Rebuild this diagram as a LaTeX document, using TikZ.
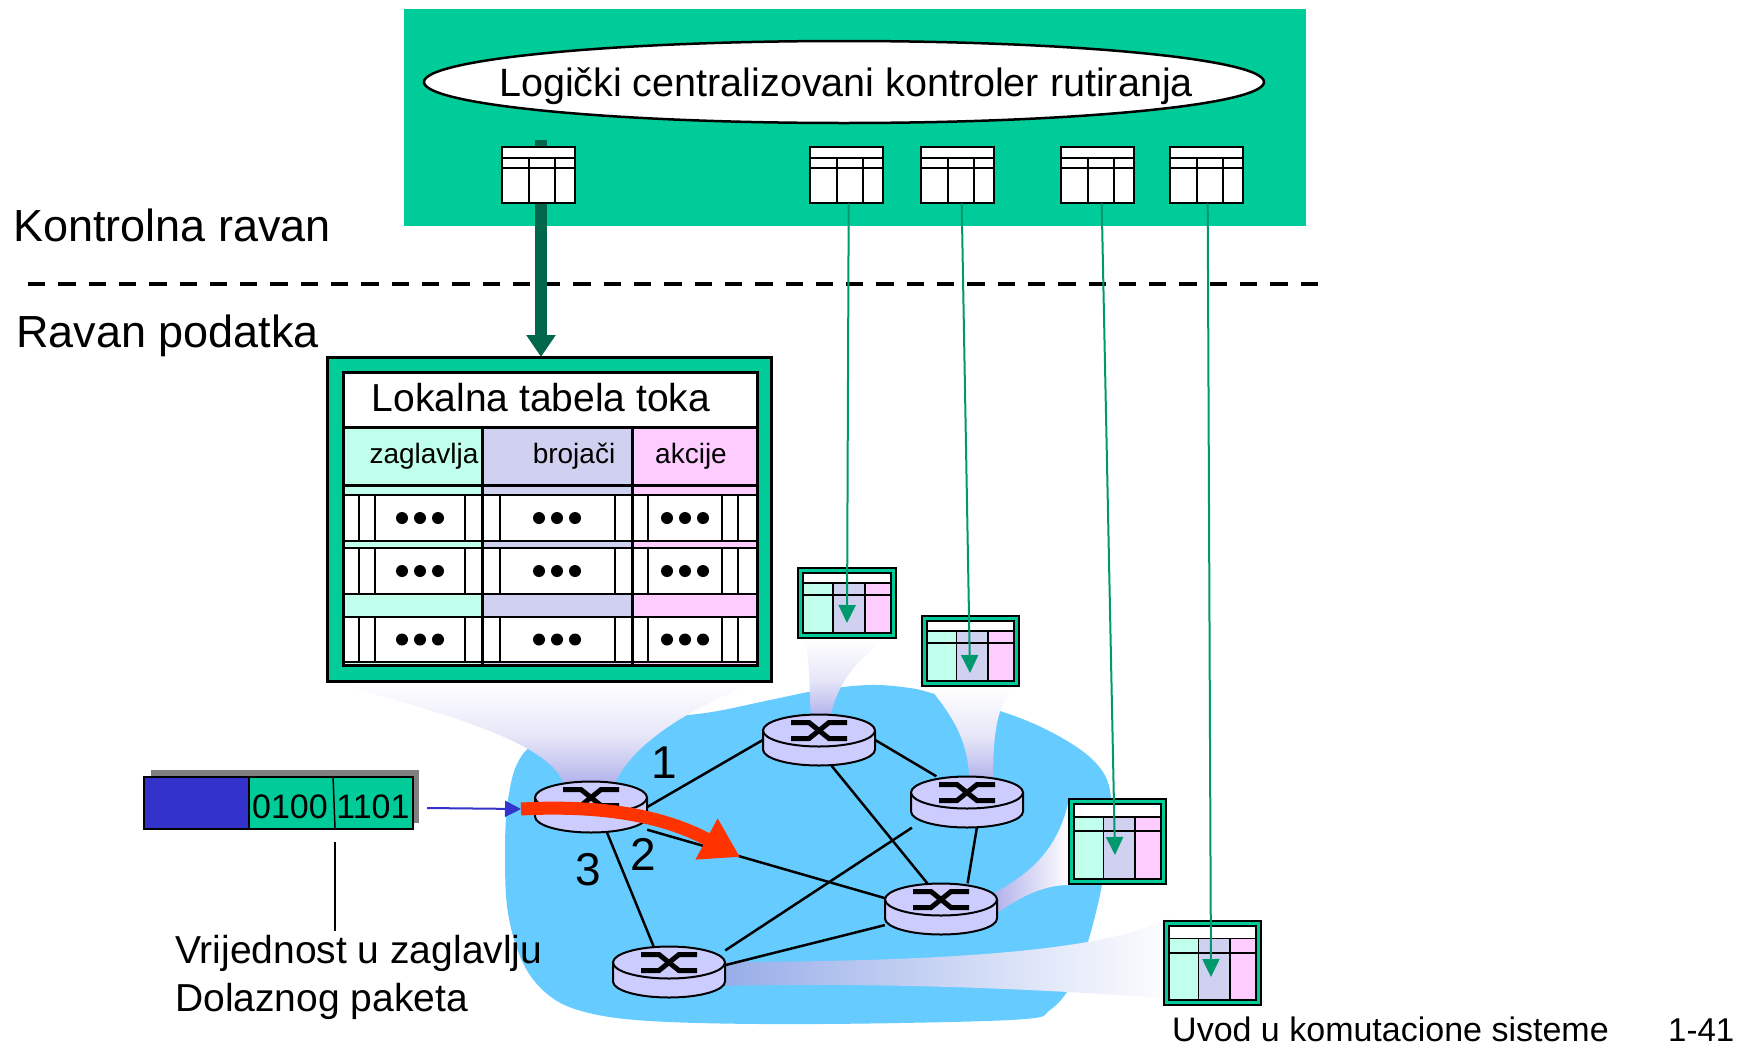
\documentclass[tikz,border=0pt]{standalone}
\usepackage{fontspec}
\setmainfont{Liberation Sans}
\usetikzlibrary{arrows.meta,shapes.geometric,calc}

\definecolor{cgreen}{RGB}{0,204,153}
\definecolor{mint}{RGB}{192,255,235}
\definecolor{lav}{RGB}{208,208,240}
\definecolor{pinkc}{RGB}{255,204,255}
\definecolor{rtr}{RGB}{204,204,255}
\definecolor{cloudc}{RGB}{102,204,255}
\definecolor{dkgreen}{RGB}{0,102,76}
\definecolor{ctrlline}{RGB}{0,153,110}
\definecolor{redarr}{RGB}{255,51,0}
\definecolor{pktblue}{RGB}{51,51,204}
\definecolor{glowc}{RGB}{172,172,234}
\definecolor{glowb}{RGB}{150,172,232}

\tikzset{
  fs/.style={font=\fontsize{#1}{#1}\selectfont},
  lbl/.style={inner sep=0pt},
  tabbox/.style={rectangle, inner sep=0pt, draw=none},
  swbox/.style={rectangle, inner sep=0pt, draw=none, minimum width=112pt, minimum height=51pt},
  swline/.style={line width=2pt, draw=black},
  swmark/.style={line width=5pt, draw=black, line join=miter},
  link/.style={line width=2.5pt, draw=black},
  ctlarrow/.style={line width=12pt, draw=dkgreen, -{Triangle[length=22pt,width=28pt]}},
  ctlthin/.style={line width=2pt, draw=ctrlline, -{Triangle[length=18pt,width=17pt]}},
  flowarrow/.style={line width=13pt, draw=redarr, -{Triangle[length=38pt,width=44pt]}},
  pktarrow/.style={line width=2pt, draw=pktblue, -{Triangle[length=16pt,width=16pt]}},
  glowdown/.style={top color=white, bottom color=glowc, middle color=glowc!30!white},
}

% small table of the controller: name, x, y (73 x 56)
\newcommand\ctab[3]{%
  \node[tabbox, minimum width=73pt, minimum height=56pt, anchor=north west] (#1) at (#2,#3) {};
  \begin{scope}[shift={(#2,#3)}]
    \draw[line width=2pt, fill=white] (0,0) rectangle (73,56);
    \draw[line width=1.6pt] (0,11) -- (73,11) (0,21) -- (73,21) (27,11) -- (27,56) (53,11) -- (53,56);
  \end{scope}}

% flow table of a switch: name, x, y, width, height
\newcommand\ntab[5]{%
  \node[tabbox, minimum width=#4pt, minimum height=#5pt, anchor=north west] (#1) at (#2,#3) {};
  \draw[line width=2.5pt, fill=cgreen] (#2,#3) rectangle ++(#4,#5);
  \pgfmathsetmacro\tabW{#4-10}\pgfmathsetmacro\tabH{#5-10}%
  \begin{scope}[shift={(#2+5,#3+5)}, x=\tabW pt, y=-\tabH pt]
    \fill[white] (0,0) rectangle (1,0.17);
    \fill[mint] (0,0.17) rectangle (0.34,1);
    \fill[lav] (0.34,0.17) rectangle (0.70,1);
    \fill[pinkc] (0.70,0.17) rectangle (1,1);
    \draw[line width=1.8pt] (0,0) rectangle (1,1) (0,0.17) -- (1,0.17) (0,0.36) -- (1,0.36)
      (0.34,0.17) -- (0.34,1) (0.70,0.17) -- (0.70,1);
  \end{scope}}

% packet switch drawn as a flat cylinder: name, x, y (centre)
\newcommand\swnode[3]{%
  \node[swbox] (#1) at (#2,#3) {};
  \begin{scope}[shift={(#2,#3-9.5)}]
    \fill[rtr] (-56,0) rectangle (56,19);
    \fill[rtr] (0,19) ellipse[x radius=56, y radius=16];
    \draw[swline] (-56,0) -- (-56,19) arc[start angle=180, end angle=0, x radius=56, y radius=16] -- (56,0);
    \draw[swline, fill=rtr] (0,0) ellipse[x radius=56, y radius=16];
    \draw[swmark] (-28,-8) -- (-10,-8) -- (10,8) -- (28,8) (-28,8) -- (-10,8) -- (10,-8) -- (28,-8);
  \end{scope}}

\begin{document}
\begin{tikzpicture}[x=1pt, y=-1pt]
\fill[white] (0,0) rectangle (1750,1047);
\useasboundingbox (0,0) rectangle (1750,1047);

% ---- control plane ----
\fill[cgreen] (404,9) rectangle (1306,226);
\node[draw, ellipse, line width=2.5pt, fill=white, minimum width=840pt, minimum height=82pt, inner sep=0pt] (ctrl) at (844,82) {};
\node[lbl, fs=39.5, anchor=base] (ctrltxt) at (846,96) {Logički centralizovani kontroler rutiranja};

\node[lbl, fs=45, anchor=base west] (cplane) at (13,241) {Kontrolna ravan};
\coordinate (dashA) at (28,284);
\coordinate (dashB) at (1318,284);
\draw[line width=4pt, dash pattern=on 17.3pt off 13pt] (dashA) -- (dashB);
\node[lbl, fs=45, anchor=base west] (dplane) at (16,347) {Ravan podatka};

% flow table placeholder (drawn further down)
\node[tabbox, minimum width=444pt, minimum height=324pt, anchor=north west] (flow) at (327,357) {};

\coordinate (ctlsrc) at (541,140);
\draw[ctlarrow] (ctlsrc) -- (ctlsrc |- flow.north);

\ctab{c1}{502}{147}
\ctab{c2}{810}{147}
\ctab{c3}{921}{147}
\ctab{c4}{1061}{147}
\ctab{c5}{1170}{147}

% ---- network cloud ----
\fill[cloudc] plot[smooth cycle, tension=0.6] coordinates {
  (505,850) (508,800) (518,762) (540,742) (600,727) (660,718) (712,712) (770,700)
  (820,690) (870,685) (910,688) (935,694) (1003,712) (1053,733) (1093,760) (1110,790)
  (1108,835) (1102,885) (1087,945) (1070,987) (1050,1010) (1025,1019) (900,1023)
  (760,1024) (650,1021) (589,1013) (551,997) (524,965) (508,913)};

% glows between switches and their tables
\shade[glowdown] (335,683) .. controls (450,715) and (560,745) .. (565,790) -- (612,790)
  .. controls (630,740) and (700,705) .. (753,683) -- cycle;
\shade[glowdown] (805,640) .. controls (812,680) and (808,700) .. (812,720) -- (830,720)
  .. controls (835,690) and (850,665) .. (884,640) -- cycle;
\shade[glowdown] (930,688) .. controls (955,720) and (968,740) .. (970,785) -- (993,785)
  .. controls (993,740) and (995,710) .. (1012,688) -- cycle;
\shade[left color=glowc, right color=white] (1069,800) .. controls (1060,840) and (1040,870) .. (990,895)
  -- (990,918) .. controls (1015,900) and (1040,885) .. (1069,885) -- cycle;
\shade[left color=glowb, right color=white] (715,962) .. controls (950,962) and (1130,950) .. (1176,912)
  -- (1164,925) -- (1164,998) .. controls (1050,990) and (900,982) .. (715,986) -- cycle;

% switch positions
\path (591,807) coordinate (p1) (819,740) coordinate (p2) (967,802) coordinate (p3)
      (941,909) coordinate (p4) (669,972) coordinate (p5);
\node[swbox] (r1) at (p1) {};
\node[swbox] (r2) at (p2) {};
\node[swbox] (r3) at (p3) {};
\node[swbox] (r4) at (p4) {};
\node[swbox] (r5) at (p5) {};

% links
\draw[link] (r1.east) -- (r2.west);
\draw[link] (r1.-22) -- (r4.169);
\draw[link] (r1.-58) -- (r5.121);
\draw[link] (r2.east) -- (r3.140);
\draw[link] (r2.-64) -- (r4.118);
\draw[link] (r3.-69) -- (r4.44);
\draw[link] (r3.-155) -- (r5.21);
\draw[link] (r4.196) -- (r5.7);

% switches
\swnode{s1}{591}{807}
\swnode{s2}{819}{740}
\swnode{s3}{967}{802}
\swnode{s4}{941}{909}
\swnode{s5}{669}{972}

\node[lbl, fs=46, anchor=base] (port1) at (664,778) {1};
\node[lbl, fs=46, anchor=base] (port2) at (643,870) {2};
\node[lbl, fs=46, anchor=base] (port3) at (588,885) {3};

% forwarding path of the packet
\coordinate (rstart) at (521,809);
\coordinate (rtip) at (740,857);
\draw[flowarrow] (rstart) .. controls (600,805) and (662,815) .. (rtip);

% ---- local flow table ----
\draw[line width=3pt, fill=cgreen] (flow.north west) rectangle (flow.south east);
\draw[line width=3pt, fill=white] (343,372) rectangle (757,665);
\fill[mint] (343,427) rectangle (482,665);
\fill[lav] (482,427) rectangle (632,665);
\fill[pinkc] (632,427) rectangle (757,665);
\foreach \ya/\yb in {495/541, 548/594, 617/662} {
  \fill[white] (343,\ya) rectangle (757,\yb);
  \draw[line width=1.8pt] (343,\ya) -- (757,\ya) (343,\yb) -- (757,\yb);
  \foreach \xv in {359,375,465,500,615,648,722,738}
    \draw[line width=1.6pt] (\xv,\ya) -- (\xv,\yb);
  \foreach \xc in {420,557,685}
    \foreach \dx in {-18,0,18}
      \fill (\xc+\dx,{(\ya+\yb)/2}) circle[radius=6];
}
\draw[line width=3pt] (343,427) -- (757,427) (343,485) -- (757,485)
  (482,427) -- (482,665) (632,427) -- (632,665);
\draw[line width=3pt] (343,372) rectangle (757,665);
\node[lbl, fs=39, anchor=base] (ftitle) at (541,411) {Lokalna tabela toka};
\node[lbl, fs=28, anchor=base] (hdr1) at (424,463) {zaglavlja};
\node[lbl, fs=28, anchor=base] (hdr2) at (574,463) {brojači};
\node[lbl, fs=28, anchor=base] (hdr3) at (691,463) {akcije};

% ---- switch tables ----
\ntab{t1}{798}{568}{98}{70}
\ntab{t2}{922}{616}{97}{70}
\ntab{t3}{1069}{799}{97}{85}
\ntab{t4}{1164}{921}{97}{84}

\coordinate (tip1) at (847,623);
\coordinate (tip2) at (970,673);
\coordinate (tip3) at (1115,855);
\coordinate (tip4) at (1211,977);
\draw[ctlthin] ($(c2.south)+(2,0)$) -- (tip1);
\draw[ctlthin] ($(c3.south)+(4,0)$) -- (tip2);
\draw[ctlthin] ($(c4.south)+(4,0)$) -- (tip3);
\draw[ctlthin] ($(c5.south)+(1,0)$) -- (tip4);

% ---- incoming packet ----
\fill[black!50] (151,770) rectangle (419,823);
\node[tabbox, draw, line width=2pt, fill=pktblue, minimum width=105pt, minimum height=52pt, anchor=north west] (pkb) at (143,776) {};
\node[tabbox, draw, line width=2pt, fill=cgreen, minimum width=164pt, minimum height=52pt, anchor=north west] (pkg) at (248,776) {};
\draw[line width=1.5pt] (333,776) -- (335,828);
\node[lbl, fs=34, anchor=base] (hv1) at (290,818) {0100};
\node[lbl, fs=34, anchor=base] (hv2) at (373,818) {1101};

\coordinate (bstart) at (427,808);
\draw[pktarrow] (bstart) -- (rstart);

\coordinate (lnA) at (335,842);
\coordinate (lnB) at (335,931);
\draw[line width=1.5pt] (lnA) -- (lnB);
\node[lbl, fs=39, anchor=base west] (note1) at (175,963) {Vrijednost u zaglavlju};
\node[lbl, fs=39, anchor=base west] (note2) at (175,1011) {Dolaznog paketa};

% ---- footer ----
\node[lbl, fs=34, anchor=base west] (foot) at (1172,1041) {Uvod u komutacione sisteme};
\node[lbl, fs=33, anchor=base west] (pgno) at (1668,1041) {1-41};
\end{tikzpicture}
\end{document}
